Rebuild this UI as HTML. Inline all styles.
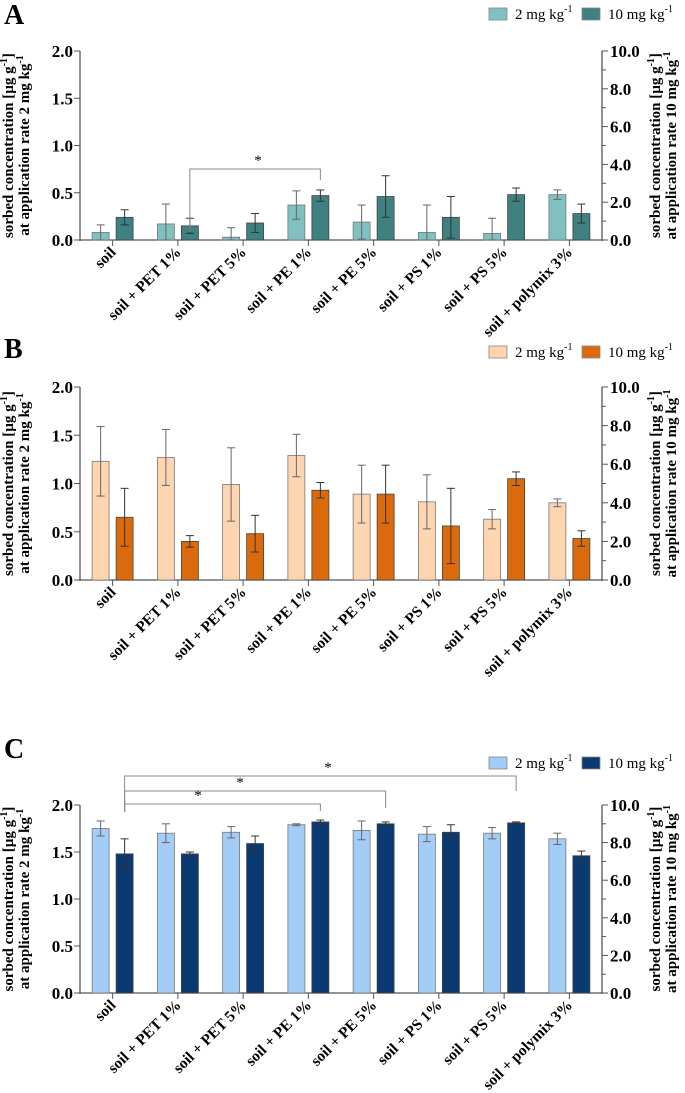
<!DOCTYPE html>
<html><head><meta charset="utf-8"><style>
html,body{margin:0;padding:0;background:#fff;width:685px;height:1093px;overflow:hidden}
svg{display:block;font-family:"Liberation Serif",serif}
</style></head><body>
<svg id="fig" width="685" height="1093" viewBox="0 0 685 1093"></svg>
<script>
const categories=["soil","soil + PET 1%","soil + PET 5%","soil + PE 1%","soil + PE 5%","soil + PS 1%","soil + PS 5%","soil + polymix 3%"];
const leftTicks=["0.0","0.5","1.0","1.5","2.0"];
const rightTicks=["0.0","2.0","4.0","6.0","8.0","10.0"];
const legendLabels=["2 mg kg","10 mg kg"];
// Panel A
const aLow=[0.08,0.17,0.03,0.37,0.19,0.08,0.07,0.48];
const aLowErr=[0.08,0.21,0.10,0.15,0.18,0.29,0.16,0.05];
const aHigh=[1.2,0.75,0.9,2.35,2.3,1.2,2.4,1.4];
const aHighErr=[0.4,0.4,0.5,0.3,1.1,1.1,0.35,0.5];
// Panel B
const bLow=[1.23,1.27,0.99,1.29,0.89,0.81,0.63,0.80];
const bLowErr=[0.36,0.29,0.38,0.22,0.30,0.28,0.10,0.04];
const bHigh=[3.25,2.0,2.4,4.65,4.45,2.8,5.25,2.15];
const bHighErr=[1.5,0.3,0.95,0.4,1.5,1.95,0.35,0.4];
// Panel C
const cLow=[1.75,1.70,1.71,1.79,1.73,1.69,1.70,1.64];
const cLowErr=[0.08,0.10,0.06,0.01,0.10,0.08,0.06,0.06];
const cHigh=[7.4,7.4,7.95,9.1,9.0,8.55,9.05,7.3];
const cHighErr=[0.8,0.1,0.4,0.1,0.1,0.4,0.05,0.25];

const NS="http://www.w3.org/2000/svg";
const svg=document.getElementById('fig');
function mk(tag,attrs,parent,text){const e=document.createElementNS(NS,tag);for(const k in attrs)e.setAttribute(k,attrs[k]);if(text!==undefined)e.textContent=text;(parent||svg).appendChild(e);return e;}

const X0=80,X1=602;
function xc(i){return X0+(X1-X0)/8*(i+0.5);}

function panel(p){
  const g=mk('g',{});
  
  
  const yL=v=>p.bot-(p.bot-p.top)*v/2;
  const yR=v=>p.bot-(p.bot-p.top)*v/10;
  const letter=mk('text',{x:4,y:p.letterY,'font-size':28,'font-weight':'bold'},g,p.id);
  
  
  const lg=mk('g',{},g);
  
  
  [[489,p.c1,0],[582,p.c2,1]].forEach(([lx,col,k])=>{
    mk('rect',{x:lx,y:p.legY-6,width:18,height:12,fill:col,stroke:'#888','stroke-width':0.8},lg);
    const t=mk('text',{x:lx+26,y:p.legY+5,'font-size':15},lg);
    
    
    t.textContent=legendLabels[k];
    mk('tspan',{dy:-7,'font-size':10},t,'-1');
  });
  mk('line',{x1:X0,y1:p.top,x2:X0,y2:p.bot+1,stroke:'#555','stroke-width':1.3},g);
  mk('line',{x1:X1,y1:p.top,x2:X1,y2:p.bot+1,stroke:'#555','stroke-width':1.3},g);
  mk('line',{x1:X0,y1:p.bot,x2:X1,y2:p.bot,stroke:'#555','stroke-width':1.3},g);
  leftTicks.forEach((t,i)=>{const y=yL(i*0.5);
    mk('line',{x1:X0-6,y1:y,x2:X0,y2:y,stroke:'#555'},g);
    const tx=mk('text',{x:X0-7,y:y+6,'font-size':17,'font-weight':'bold','text-anchor':'end'},g,t);
    
    });
  rightTicks.forEach((t,i)=>{const y=yR(i*2);
    mk('line',{x1:X1,y1:y,x2:X1+6,y2:y,stroke:'#555'},g);
    if(i<5) mk('line',{x1:X1,y1:yR(i*2+1),x2:X1+4,y2:yR(i*2+1),stroke:'#555'},g);
    const tx=mk('text',{x:X1+8,y:y+6,'font-size':17,'font-weight':'bold'},g,t);
    
    });
  const mid=(p.top+p.bot)/2;
  const lt=mk('text',{transform:`translate(27,${mid}) rotate(-90)`,'font-size':15,'font-weight':'bold','text-anchor':'middle'},g);
  
  
  mk('tspan',{x:0,y:-14},lt,'sorbed concentration [µg g');mk('tspan',{dy:-6,'font-size':10},lt,'-1');mk('tspan',{dy:6},lt,']');
  mk('tspan',{x:0,y:2},lt,'at application rate 2 mg kg');mk('tspan',{dy:-6,'font-size':10},lt,'-1');
  const rt=mk('text',{transform:`translate(656,${mid}) rotate(-90)`,'font-size':15,'font-weight':'bold','text-anchor':'middle'},g);
  
  
  mk('tspan',{x:0,y:4},rt,'sorbed concentration [µg g');mk('tspan',{dy:-6,'font-size':10},rt,'-1');mk('tspan',{dy:6},rt,']');
  mk('tspan',{x:0,y:20},rt,'at application rate 10 mg kg');mk('tspan',{dy:-6,'font-size':10},rt,'-1');
  categories.forEach((c,i)=>{
    const cx=xc(i);
    mk('line',{x1:cx,y1:p.bot,x2:cx,y2:p.bot+6,stroke:'#555'},g);
    const lab=mk('text',{transform:`translate(${cx+4},${p.bot+13}) rotate(-45)`,'font-size':15.5,'font-weight':'bold','text-anchor':'end'},g,c);
    
    
    const lx=cx-20.5, hx=cx+3.5, w=17;
    const y1=yL(p.low[i]);
    const b1=mk('rect',{x:lx,y:y1,width:w,height:p.bot-y1,fill:p.c1,stroke:'#777','stroke-width':0.8},g);
    
    
    const y2=yR(p.high[i]);
    const b2=mk('rect',{x:hx,y:y2,width:w,height:p.bot-y2,fill:p.c2,stroke:'#444','stroke-width':0.8},g);
    
    
    const e1t=yL(p.low[i]+p.lowErr[i]), e1b=Math.min(p.bot,yL(p.low[i]-p.lowErr[i]));
    const e2t=yR(p.high[i]+p.highErr[i]), e2b=Math.min(p.bot,yR(p.high[i]-p.highErr[i]));
    [[lx+w/2,e1t,e1b,'#666'],[hx+w/2,e2t,e2b,'#333']].forEach(([ex,t,b,col])=>{
      const eg=mk('g',{stroke:col,'stroke-width':1},g);
      
      
      mk('line',{x1:ex,y1:t,x2:ex,y2:b},eg);
      mk('line',{x1:ex-4,y1:t,x2:ex+4,y2:t},eg);
      mk('line',{x1:ex-4,y1:b,x2:ex+4,y2:b},eg);
    });
  });
  (p.brackets||[]).forEach(br=>{
    const bg=mk('g',{},g);
    
    
    const xa=xc(br.a)+12, xb=xc(br.b)+12;
    mk('polyline',{points:`${xa},${br.ya} ${xa},${br.y} ${xb},${br.y} ${xb},${br.yb}`,fill:'none',stroke:'#888','stroke-width':1},bg);
    mk('text',{x:br.sx,y:br.y-4,'font-size':15,'text-anchor':'middle'},bg,'*');
  });
}
panel({id:'A',letterY:24,legY:14,top:51,bot:240,c1:'#80c0c0',c2:'#3f8080',low:aLow,lowErr:aLowErr,high:aHigh,highErr:aHighErr,
  brackets:[{a:1,b:3,y:169,ya:232,yb:180,sx:258}]});
panel({id:'B',letterY:358,legY:352,top:387,bot:580,c1:'#fdd5b0',c2:'#da6a0c',low:bLow,lowErr:bLowErr,high:bHigh,highErr:bHighErr});
panel({id:'C',letterY:758,legY:763,top:805,bot:993,c1:'#a3cdf6',c2:'#0b3a72',low:cLow,lowErr:cLowErr,high:cHigh,highErr:cHighErr,
  brackets:[{a:0,b:6,y:776,ya:812,yb:791,sx:328},{a:0,b:4,y:791,ya:812,yb:808,sx:240},{a:0,b:3,y:804,ya:812,yb:811,sx:198}]});
</script>
</body></html>
